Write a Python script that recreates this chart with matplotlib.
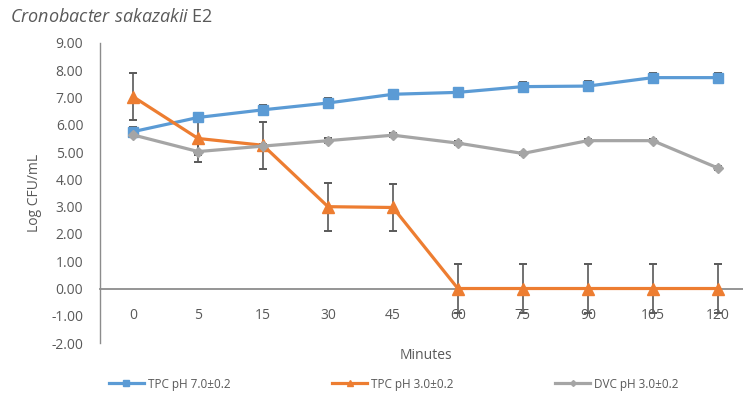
import matplotlib.pyplot as plt
import numpy as np

plt.rcParams['font.family'] = ['Open Sans', 'DejaVu Sans']
plt.rcParams['mathtext.fontset'] = 'custom'
plt.rcParams['mathtext.it'] = 'Open Sans:italic'
plt.rcParams['mathtext.rm'] = 'Open Sans'

minutes = ['0', '5', '15', '30', '45', '60', '75', '90', '105', '120']

tpc_ph7 = [5.75, 6.27, 6.55, 6.80, 7.12, 7.19, 7.40, 7.42, 7.73, 7.73]
tpc_ph7_err = [0.17, 0.17, 0.17, 0.17, 0.17, 0.17, 0.17, 0.17, 0.17, 0.17]

tpc_ph3 = [7.03, 5.50, 5.25, 3.00, 2.97, 0.0, 0.0, 0.0, 0.0, 0.0]
tpc_ph3_err = [0.87, 0.60, 0.86, 0.88, 0.87, 0.90, 0.90, 0.90, 0.90, 0.90]

dvc_ph3 = [5.63, 5.02, 5.22, 5.42, 5.62, 5.33, 4.95, 5.42, 5.42, 4.42]
dvc_ph3_err = [0.08, 0.38, 0.08, 0.08, 0.08, 0.06, 0.06, 0.06, 0.06, 0.06]

blue = '#5B9BD5'
orange = '#ED7D31'
grey = '#A5A5A5'
txt = '#595959'
axcol = '#8C8C8C'

fig = plt.figure(figsize=(7.43, 3.98), dpi=100)
ax = fig.add_axes([0.1346, 0.138, 0.8654, 0.754])

x = np.arange(len(minutes))

series = [
    (tpc_ph7, tpc_ph7_err, blue, 's', 7.5, 'TPC pH 7.0±0.2'),
    (tpc_ph3, tpc_ph3_err, orange, '^', 8, 'TPC pH 3.0±0.2'),
    (dvc_ph3, dvc_ph3_err, grey, 'D', 5, 'DVC pH 3.0±0.2'),
]
handles = []
for vals, err, col, mk, ms, lab in series:
    # barres d'erreur sous les marqueurs
    ax.errorbar(x, vals, yerr=err, fmt='none', ecolor='#595959',
                elinewidth=1.2, capsize=2.8, capthick=1.4, zorder=2)
    h, = ax.plot(x, vals, color=col, lw=2.3, marker=mk, ms=ms,
                 mec=col, mfc=col, label=lab, zorder=3)
    handles.append(h)

ax.set_xlim(-0.51, 9.39)
ax.set_ylim(-2, 9)
ax.set_yticks(np.arange(-2, 10, 1))
ax.set_yticklabels([f'{v:.2f}' for v in np.arange(-2, 10, 1)])

for s in ['top', 'right']:
    ax.spines[s].set_visible(False)
ax.spines['left'].set_color(axcol)
ax.spines['left'].set_linewidth(1)
ax.spines['bottom'].set_position(('data', 0))
ax.spines['bottom'].set_color(axcol)
ax.spines['bottom'].set_linewidth(1.3)

ax.set_xticks(x)
ax.set_xticklabels(minutes)
ax.tick_params(axis='x', length=0, pad=14, labelsize=10, labelcolor=txt)
ax.tick_params(axis='y', length=0, pad=12, labelsize=10, labelcolor=txt)

ax.set_ylabel('Log CFU/mL', fontsize=10, color=txt, labelpad=7)
fig.text(0.573, 0.108, 'Minutes', ha='center', va='center', fontsize=10, color=txt)

fig.text(0.013, 0.958, r'$\it{Cronobacter\ sakazakii}$ E2', ha='left', va='center',
         fontsize=13, color=txt)

fig.legend(handles=handles, loc='center left', bbox_to_anchor=(0.132, 0.035),
           ncol=3, frameon=False, fontsize=8.5, labelcolor=txt,
           handlelength=3.0, handletextpad=0.3, columnspacing=8.6,
           markerscale=0.6)

fig.savefig('out.png', dpi=100)
